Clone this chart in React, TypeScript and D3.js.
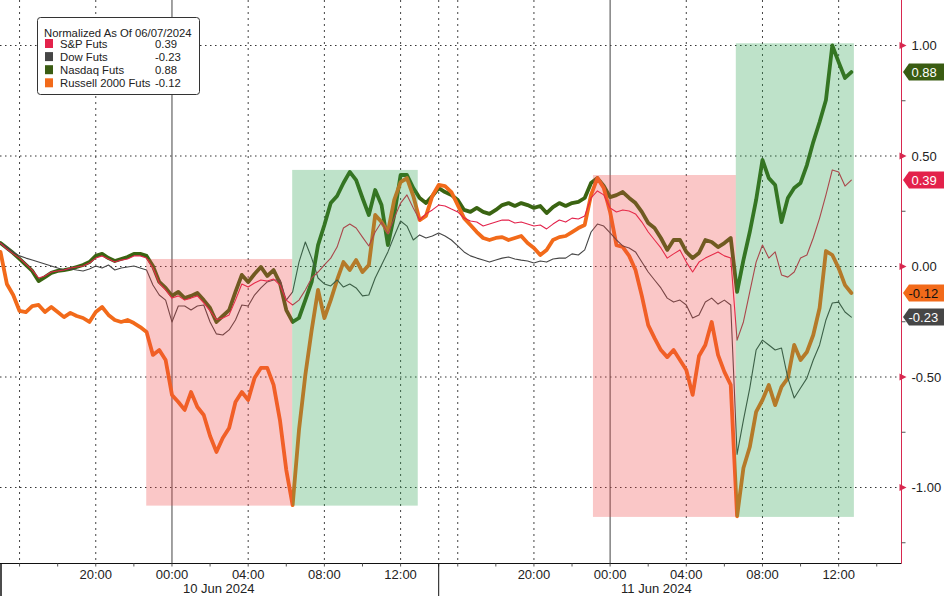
import React from "react";
import * as d3 from "d3";

// ---------- DATA ----------
// time grid: hours relative to 10 Jun 2024 00:00 (20-minute samples); 14:00-15:00 session break removed
const SEG1_HOURS = d3.range(70).map((k) => -9 + k / 3);
const SEG2_HOURS = d3.range(66).map((j) => 15 + j / 3);
const TIMES = [...SEG1_HOURS, ...SEG2_HOURS];

const SERIES_NAMES = ["S&P Futs", "Dow Futs", "Nasdaq Futs", "Russell 2000 Futs"];

const SP = [
  0.106, 0.079, 0.057, 0.038, 0.011, -0.016, -0.052, -0.043, -0.025, -0.02,
  -0.016, -0.007, -0.002, 0.002, 0.016, 0.038, 0.048, 0.034, 0.02, 0.029,
  0.034, 0.048, 0.048, 0.038, -0.007, -0.075, -0.106, -0.143, -0.133, -0.152,
  -0.143, -0.133, -0.165, -0.201, -0.24, -0.233, -0.219, -0.152, -0.079, -0.093,
  -0.075, -0.061, -0.066, -0.057, -0.084, -0.152, -0.174, -0.152, -0.106, -0.052,
  -0.025, 0.007, 0.038, 0.088, 0.174, 0.192, 0.174, 0.133, 0.093, 0.156,
  0.201, 0.147, 0.219, 0.287, 0.324, 0.265, 0.21, 0.238, 0.256, 0.278,
  0.278, 0.274, 0.26, 0.247, 0.219, 0.206, 0.201, 0.183, 0.192, 0.201,
  0.21, 0.21, 0.197, 0.201, 0.192, 0.183, 0.188, 0.17, 0.192, 0.21,
  0.201, 0.219, 0.215, 0.229, 0.31, 0.342, 0.324, 0.265, 0.247, 0.256,
  0.251, 0.238, 0.201, 0.156, 0.12, 0.084, 0.038, 0.057, 0.075, 0.02,
  -0.025, 0.02, 0.038, 0.052, 0.066, 0.048, 0.038, -0.333, -0.251, -0.115,
  0.02, 0.097, 0.038, 0.066, -0.038, -0.048, -0.025, 0.038, 0.052, 0.129,
  0.219, 0.324, 0.437, 0.428, 0.364, 0.391,
];

const DOW = [
  0.106, 0.088, 0.066, 0.048, 0.038, 0.029, 0.02, 0.011, 0.002, -0.007,
  -0.016, -0.011, -0.016, -0.02, -0.011, 0.002, -0.007, 0.007, -0.016, -0.007,
  -0.002, 0.002, -0.007, -0.016, -0.084, -0.129, -0.152, -0.251, -0.179, -0.179,
  -0.197, -0.179, -0.174, -0.251, -0.305, -0.31, -0.287, -0.242, -0.174, -0.179,
  -0.129, -0.097, -0.07, -0.061, -0.061, -0.152, -0.115, 0.02, 0.111, 0.038,
  -0.052, -0.079, -0.088, -0.061, -0.093, -0.079, -0.097, -0.133, -0.129, -0.052,
  0.007, 0.066, 0.138, 0.206, 0.183, 0.12, 0.143, 0.129, 0.138, 0.152,
  0.152, 0.138, 0.12, 0.093, 0.066, 0.048, 0.038, 0.029, 0.02, 0.029,
  0.038, 0.043, 0.034, 0.029, 0.025, 0.016, 0.025, 0.02, 0.034, 0.038,
  0.038, 0.057, 0.052, 0.075, 0.156, 0.192, 0.183, 0.152, 0.12, 0.093,
  0.084, 0.066, 0.02, -0.025, -0.061, -0.097, -0.143, -0.161, -0.152, -0.174,
  -0.233, -0.219, -0.161, -0.143, -0.17, -0.152, -0.174, -0.85, -0.695, -0.55,
  -0.378, -0.333, -0.355, -0.378, -0.369, -0.505, -0.595, -0.55, -0.505, -0.423,
  -0.355, -0.242, -0.165, -0.161, -0.206, -0.229,
];

const NASDAQ = [
  0.106, 0.084, 0.061, 0.034, 0.007, -0.02, -0.066, -0.048, -0.029, -0.02,
  -0.016, -0.011, -0.002, 0.007, 0.02, 0.048, 0.057, 0.038, 0.025, 0.034,
  0.043, 0.057, 0.057, 0.048, 0.002, -0.07, -0.097, -0.133, -0.115, -0.143,
  -0.133, -0.12, -0.152, -0.188, -0.251, -0.224, -0.197, -0.115, -0.038, -0.07,
  -0.034, -0.002, -0.043, -0.016, -0.075, -0.197, -0.251, -0.233, -0.152, -0.07,
  0.097, 0.188, 0.287, 0.319, 0.378, 0.428, 0.391, 0.31, 0.233, 0.346,
  0.278, 0.097, 0.233, 0.414, 0.414, 0.355, 0.31, 0.287, 0.319, 0.355,
  0.355, 0.337, 0.324, 0.301, 0.256, 0.247, 0.265, 0.247, 0.238, 0.256,
  0.278, 0.287, 0.274, 0.287, 0.278, 0.265, 0.274, 0.242, 0.269, 0.287,
  0.274, 0.287, 0.292, 0.31, 0.378, 0.4, 0.364, 0.314, 0.323, 0.337,
  0.31, 0.287, 0.247, 0.197, 0.174, 0.129, 0.075, 0.12, 0.12, 0.066,
  0.038, 0.061, 0.12, 0.111, 0.088, 0.106, 0.129, -0.115, 0.029, 0.156,
  0.301, 0.482, 0.4, 0.369, 0.201, 0.31, 0.355, 0.378, 0.459, 0.563,
  0.654, 0.753, 1.0, 0.925, 0.853, 0.88,
];

const RUSSELL = [
  0.066, -0.079, -0.129, -0.201, -0.206, -0.179, -0.174, -0.206, -0.183, -0.206,
  -0.229, -0.21, -0.224, -0.233, -0.251, -0.206, -0.183, -0.219, -0.242, -0.251,
  -0.242, -0.256, -0.274, -0.296, -0.4, -0.378, -0.423, -0.581, -0.613, -0.649,
  -0.568, -0.636, -0.672, -0.767, -0.839, -0.776, -0.731, -0.613, -0.568, -0.604,
  -0.505, -0.459, -0.459, -0.536, -0.695, -0.921, -1.08, -0.74, -0.491, -0.287,
  -0.106, -0.233, -0.152, -0.061, 0.02, -0.016, 0.029, -0.025, 0.007, 0.233,
  0.201, 0.156, 0.301, 0.382, 0.4, 0.319, 0.21, 0.229, 0.319, 0.369,
  0.369, 0.364, 0.337, 0.278, 0.219, 0.188, 0.156, 0.129, 0.12, 0.129,
  0.133, 0.12, 0.129, 0.138, 0.106, 0.084, 0.052, 0.075, 0.12, 0.133,
  0.138, 0.156, 0.174, 0.188, 0.324, 0.4, 0.355, 0.247, 0.097, 0.088,
  0.048, -0.016, -0.133, -0.265, -0.324, -0.378, -0.41, -0.378, -0.423, -0.468,
  -0.581, -0.405, -0.355, -0.251, -0.4, -0.477, -0.536, -1.13, -0.912, -0.817,
  -0.658, -0.604, -0.536, -0.627, -0.545, -0.505, -0.355, -0.423, -0.387, -0.31,
  -0.188, 0.07, 0.052, -0.007, -0.084, -0.12,
];

const SERIES_VALUES = [SP, DOW, NASDAQ, RUSSELL];

// shaded regions (hours, values)
const SHADE_START = [-1.35, 6.31, 23.1, 30.6];
const SHADE_END = [6.31, 12.9, 30.6, 36.8];
const SHADE_TOP = [0.034, 0.437, 0.414, 1.01];
const SHADE_BOTTOM = [-1.082, -1.082, -1.133, -1.133];
const SHADE_KIND = ["down", "up", "down", "up"];

// axis ticks
const Y_TICKS = [1, 0.5, 0, -0.5, -1];
const Y_MINOR = [0.75, 0.25, -0.25, -0.75, -1.25];
const X_MINOR_TICKS = [...d3.range(-8, 15, 2), ...d3.range(16, 39, 2)];
const X_LABEL_HOURS = [-4, 0, 4, 8, 12, 20, 24, 28, 32, 36];
const X_LABELS = ["20:00", "00:00", "04:00", "08:00", "12:00", "20:00", "00:00", "04:00", "08:00", "12:00"];
const X_DASHED_GRID = [-8, -4, 4, 8, 12, 14, 16, 20, 28, 32, 36];
const X_DAY_LINES = [0, 24];
const DAY_LABELS = ["10 Jun 2024", "11 Jun 2024"];
const LEGEND_TITLE = "Normalized As Of 06/07/2024";

// ---------- STYLE ----------
const COLORS = ["#e3224b", "#464646", "#3a6412", "#f26a1a"];
const TAG_COLORS = ["#e3224b", "#464646", "#3a5c12", "#f26a1a"];
const TAG_TEXT = ["#ffffff", "#ffffff", "#ffffff", "#111111"];
const WIDTHS = [1.1, 1.1, 3.8, 3.8];
const DRAW_ORDER = [2, 3, 1, 0];
const FONT = "'Liberation Sans', Arial, sans-serif";

const fmt = (v: number) => v.toFixed(2);

export default function App() {
  const W = 944;
  const H = 596;
  const axisY = 563.5;
  const axisX = 901.5;

  const x = d3.scaleLinear().domain([-9, 14, 15, 39.3]).range([0.5, 438.7, 438.7, axisX]);
  const y = d3.scaleLinear().domain([-1, 1]).range([487.5, 45.5]);

  const line = (vals: number[]) =>
    d3
      .line<number>()
      .x((_, i) => x(TIMES[i]))
      .y((d) => y(d))(vals) || "";

  return (
    <svg
      width={W}
      height={H}
      style={{ position: "absolute", left: 0, top: 0, background: "#fff", fontFamily: FONT }}
    >
      <rect x={0} y={0} width={W} height={H} fill="#fff" />

      {/* horizontal grid */}
      {Y_TICKS.map((t) => (
        <line key={"hg" + t} x1={0} x2={axisX - 2} y1={y(t)} y2={y(t)} stroke="#333" strokeWidth={1} strokeDasharray="1.5,3.5" />
      ))}
      {/* vertical dashed grid */}
      {X_DASHED_GRID.map((h) => (
        <line key={"vg" + h} x1={x(h)} x2={x(h)} y1={0} y2={axisY} stroke="#444" strokeWidth={1} strokeDasharray="2,4" />
      ))}
      {/* day lines */}
      {X_DAY_LINES.map((h) => (
        <line key={"dl" + h} x1={x(h)} x2={x(h)} y1={0} y2={axisY} stroke="#444" strokeWidth={1} />
      ))}

      {/* series */}
      {DRAW_ORDER.map((i) => (
        <path
          key={"s" + i}
          d={line(SERIES_VALUES[i])}
          fill="none"
          stroke={COLORS[i]}
          strokeWidth={WIDTHS[i]}
          strokeLinejoin="round"
          strokeLinecap="round"
        />
      ))}

      {/* shaded regions */}
      {SHADE_START.map((s, i) => (
        <rect
          key={"sh" + i}
          x={x(s)}
          y={y(SHADE_TOP[i])}
          width={x(SHADE_END[i]) - x(s)}
          height={y(SHADE_BOTTOM[i]) - y(SHADE_TOP[i])}
          fill={SHADE_KIND[i] === "down" ? "rgb(240,70,70)" : "rgb(40,160,75)"}
          fillOpacity={0.3}
        />
      ))}

      {/* bottom axis */}
      <line x1={0} x2={axisX} y1={axisY} y2={axisY} stroke="#111" strokeWidth={1} />
      {X_MINOR_TICKS.map((h) => (
        <line key={"xt" + h} x1={x(h)} x2={x(h)} y1={axisY} y2={axisY + 3} stroke="#555" strokeWidth={1} />
      ))}
      <line x1={1} x2={1} y1={axisY} y2={H} stroke="#111" strokeWidth={1.5} />
      <line x1={x(14)} x2={x(14)} y1={axisY} y2={H} stroke="#111" strokeWidth={1} />
      {X_LABEL_HOURS.map((h, i) => (
        <text key={"xl" + i} x={x(h)} y={578.5} fontSize={13} textAnchor="middle" fill="#222">
          {X_LABELS[i]}
        </text>
      ))}
      {X_DAY_LINES.map((h, i) => (
        <text key={"dlb" + i} x={x(h) + 11} y={593} fontSize={13} fill="#222">
          {DAY_LABELS[i]}
        </text>
      ))}

      {/* right axis */}
      <line x1={axisX} x2={axisX} y1={0} y2={axisY} stroke="#d8284f" strokeWidth={1} />
      {Y_MINOR.map((t) => (
        <line key={"ym" + t} x1={axisX} x2={axisX + 4} y1={y(t)} y2={y(t)} stroke="#555" strokeWidth={1} />
      ))}
      {Y_TICKS.map((t) => (
        <g key={"yt" + t}>
          <path
            d={`M${axisX - 2},${y(t) - 3.5}L${axisX + 5},${y(t)}L${axisX - 2},${y(t) + 3.5}Z`}
            fill="#d8284f"
          />
          <text x={axisX + 10} y={y(t) + 4.5} fontSize={13} fill="#222">
            {fmt(t)}
          </text>
        </g>
      ))}

      {/* last-value tags */}
      {SERIES_VALUES.map((vals, i) => {
        const v = vals[vals.length - 1];
        const cy = y(v);
        const x0 = axisX + 1.5;
        return (
          <g key={"tag" + i}>
            <path
              d={`M${x0},${cy}L${x0 + 6},${cy - 8.5}L${W},${cy - 8.5}L${W},${cy + 8.5}L${x0 + 6},${cy + 8.5}Z`}
              fill={TAG_COLORS[i]}
            />
            <text x={x0 + (v < 0 ? 5.5 : 8.5)} y={cy + 4.5} fontSize={13} fill={TAG_TEXT[i]}>
              {fmt(v)}
            </text>
          </g>
        );
      })}

      {/* legend */}
      <g>
        <rect x={37.5} y={17.5} width={162} height={77} rx={3} fill="#fff" stroke="#333" strokeWidth={1} />
        <text x={44} y={36.5} fontSize={11.3} fill="#222">
          {LEGEND_TITLE}
        </text>
        {SERIES_NAMES.map((n, i) => {
          const vals = SERIES_VALUES[i];
          const cy = 43.5 + i * 13.1;
          return (
            <g key={"lg" + i}>
              <rect x={45} y={cy - 4.5} width={8} height={9} fill={TAG_COLORS[i]} />
              <text x={60} y={cy + 4} fontSize={11.3} fill="#222">
                {n}
              </text>
              <text x={155} y={cy + 4} fontSize={11.3} fill="#222">
                {fmt(vals[vals.length - 1])}
              </text>
            </g>
          );
        })}
      </g>
    </svg>
  );
}
